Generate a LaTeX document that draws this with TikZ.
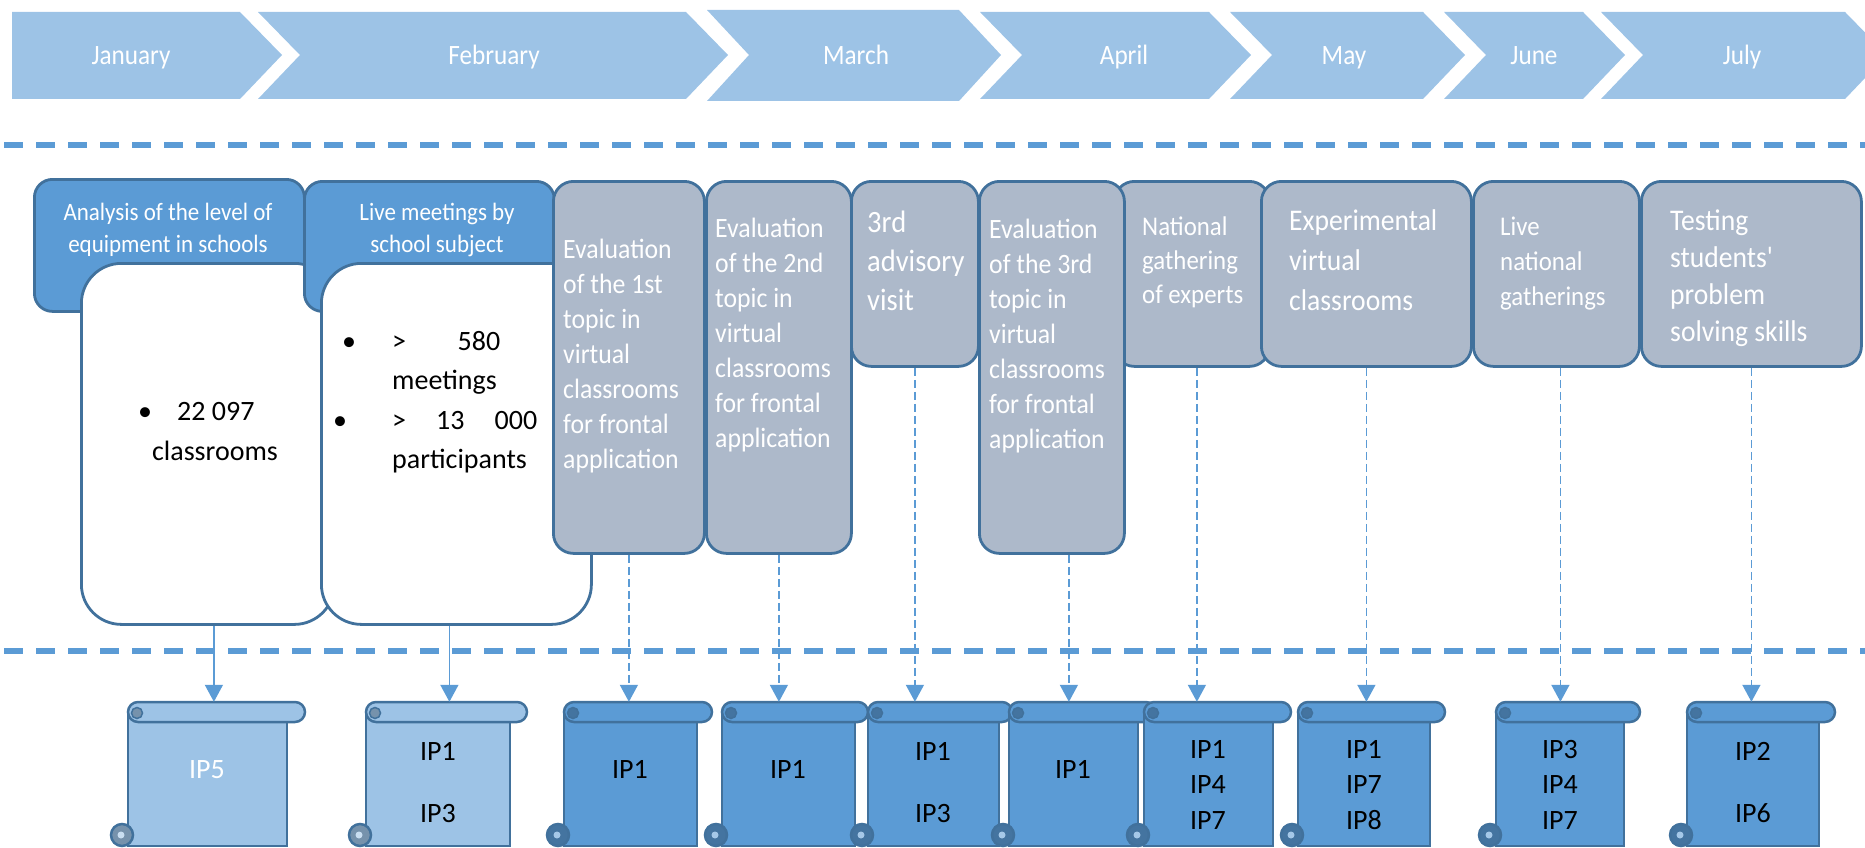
\documentclass[tikz,border=0pt]{standalone}
\usepackage{fontspec}
\setmainfont{Carlito}
\newfontfamily\wfont[FakeStretch=0.92]{Carlito}
\newfontfamily\mfont[FakeStretch=0.9]{Carlito}
\usetikzlibrary{arrows.meta,fit}
\definecolor{chev}{HTML}{9DC3E6}
\definecolor{mblue}{HTML}{5B9BD5}
\definecolor{dblue}{HTML}{41719C}
\definecolor{gbox}{HTML}{ADB9CA}
\newcommand\drawscroll[5]{%
  \draw[scrl, fill=#5] (#2,712) rectangle (#4,846);
  \draw[scrl, fill=#5, rounded corners=10] (#2,702) rectangle (#3,722);
  \draw[scrl, fill=#5!75!black, line width=1.5] (#2+9,713) circle (5.5);
  \draw[scrl, fill=#5!75!black] (#2-6,835) circle (11);
  \fill[#5!55!white] (#2-7,835) circle (3.5);
  \node[inner sep=0, fit={(#2,702) (#3,846)}] (#1) {};
}
\begin{document}
\begin{tikzpicture}[x=1pt,y=-1pt,
  scrl/.style={draw=dblue, line width=2.5},
  month/.style={text=white, inner sep=0, anchor=base, font=\mfont\fontsize{28}{34}\selectfont},
  tabbox/.style={draw=dblue, fill=mblue, line width=2.8, rounded corners=18, inner sep=0, anchor=north west},
  whitebox/.style={draw=dblue, fill=white, line width=2.8, rounded corners=40, inner sep=0, anchor=north west},
  graybox/.style={draw=dblue, fill=gbox, line width=2.8, rounded corners=20, inner sep=0, anchor=north west},
  wtext/.style={text=white, inner sep=0, anchor=base west},
  btext/.style={text=black, inner sep=0, font=\fontsize{28}{40}\selectfont},
  stext/.style={inner sep=0, anchor=base, font=\fontsize{28}{35}\selectfont},
  hdash/.style={mblue, line width=6, dash pattern=on 19pt off 13pt},
  conndash/.style={mblue, line width=1.6, dash pattern=on 8pt off 4pt, -{Triangle[width=18pt,length=17pt]}},
  connsolid/.style={mblue, line width=1.6, -{Triangle[width=18pt,length=17pt]}}
]
\useasboundingbox (0,0) rectangle (1865,848);
\clip (0,0) rectangle (1865,848);

% chevrons
\fill[chev] (12,12) -- (240,12) -- (282,55) -- (240,99) -- (12,99) -- cycle;
\fill[chev] (258,12) -- (686,12) -- (728,55) -- (686,99) -- (258,99) -- (300,55) -- cycle;
\fill[chev] (707,10) -- (959,10) -- (1001,55) -- (959,101) -- (707,101) -- (749,55) -- cycle;
\fill[chev] (980,12) -- (1209,12) -- (1251,55) -- (1209,99) -- (980,99) -- (1022,55) -- cycle;
\fill[chev] (1230,12) -- (1423,12) -- (1465,55) -- (1423,99) -- (1230,99) -- (1272,55) -- cycle;
\fill[chev] (1444,12) -- (1583,12) -- (1625,55) -- (1583,99) -- (1444,99) -- (1486,55) -- cycle;
\fill[chev] (1601,12) -- (1845,12) -- (1887,55) -- (1845,99) -- (1601,99) -- (1643,55) -- cycle;
\node[month] (mjan) at (131,65) {January};
\node[month] (mfeb) at (494,65) {February};
\node[month] (mmar) at (856,65) {March};
\node[month] (mapr) at (1124,65) {April};
\node[month] (mmay) at (1344,65) {May};
\node[month] (mjun) at (1534,65) {June};
\node[month] (mjul) at (1742,65) {July};

% dashed separators
\draw[hdash] (4,145) -- (1865,145);
\draw[hdash] (4,651) -- (1865,651);

% first two boxes
\node[tabbox, minimum width=270, minimum height=132] (tab1) at (33,178) {};
\node[whitebox, minimum width=253, minimum height=361] (w1) at (80,262) {};
\node[tabbox, minimum width=250, minimum height=130] (tab2) at (303,180) {};
\node[whitebox, minimum width=270, minimum height=361] (w2) at (320,262) {};
\node[wtext, anchor=base, font=\wfont\fontsize{25}{32}\selectfont] (tab1t) at (168,220)
  {\parbox[t]{260pt}{\centering Analysis of the level of\\equipment in schools}};
\node[wtext, anchor=base, font=\wfont\fontsize{25}{32}\selectfont] (tab2t) at (437,220)
  {\parbox[t]{240pt}{\centering Live meetings by\\school subject}};
\node[btext, anchor=base] (b1) at (145,420) {•};
\node[btext, anchor=base west] (b1a) at (177,420) {22 097};
\node[btext, anchor=base] (b1b) at (215,460) {classrooms};
\node[btext, anchor=base] (b2) at (349,350) {•};
\node[btext, anchor=base west] (b2a) at (392,350) {\makebox[108pt][l]{>\hfill 580}};
\node[btext, anchor=base west] (b2b) at (392,389) {meetings};
\node[btext, anchor=base] (b3) at (340,429) {•};
\node[btext, anchor=base west] (b3a) at (392,429) {\makebox[145pt][l]{>\hfill 13\hfill 000}};
\node[btext, anchor=base west] (b3b) at (392,468) {participants};

% grey boxes
\node[graybox, minimum width=151, minimum height=372] (g1) at (552,180) {};
\node[graybox, minimum width=145, minimum height=372] (g2) at (705,180) {};
\node[graybox, minimum width=127, minimum height=185] (g3) at (850,180) {};
\node[graybox, minimum width=155, minimum height=185] (g5) at (1113,180) {};
\node[graybox, minimum width=145, minimum height=372] (g4) at (978,180) {};
\node[graybox, minimum width=210, minimum height=185] (g6) at (1260,180) {};
\node[graybox, minimum width=166, minimum height=185] (g7) at (1472,180) {};
\node[graybox, minimum width=220, minimum height=185] (g8) at (1640,180) {};

\node[wtext, font=\wfont\fontsize{28}{35}\selectfont] (g1t) at (563,258)
  {\parbox[t]{140pt}{\raggedright Evaluation\\of the 1st\\topic in\\virtual\\classrooms\\for frontal\\application}};
\node[wtext, font=\wfont\fontsize{28}{35}\selectfont] (g2t) at (715,237)
  {\parbox[t]{140pt}{\raggedright Evaluation\\of the 2nd\\topic in\\virtual\\classrooms\\for frontal\\application}};
\node[wtext, font=\wfont\fontsize{31}{39}\selectfont] (g3t) at (867,232)
  {\parbox[t]{120pt}{\raggedright 3rd\\advisory\\visit}};
\node[wtext, font=\wfont\fontsize{28}{35}\selectfont] (g4t) at (989,238)
  {\parbox[t]{140pt}{\raggedright Evaluation\\of the 3rd\\topic in\\virtual\\classrooms\\for frontal\\application}};
\node[wtext, font=\wfont\fontsize{27}{34}\selectfont] (g5t) at (1142,235)
  {\parbox[t]{140pt}{\raggedright National\\gathering\\of experts}};
\node[wtext, font=\wfont\fontsize{30}{40}\selectfont] (g6t) at (1289,230)
  {\parbox[t]{180pt}{\raggedright Experimental\\virtual\\classrooms}};
\node[wtext, font=\wfont\fontsize{27}{35}\selectfont] (g7t) at (1500,235)
  {\parbox[t]{140pt}{\raggedright Live\\national\\gatherings}};
\begin{scope}
\clip (1640,170) rectangle (1860,346);
\node[wtext, font=\wfont\fontsize{30}{37}\selectfont] (g8t) at (1670,230)
  {\parbox[t]{185pt}{\raggedright Testing\\students'\\problem\\solving skills}};
\end{scope}

% scrolls
\drawscroll{s1}{128}{305}{287}{chev}
\drawscroll{s2}{366}{527}{510}{chev}
\drawscroll{s3}{564}{712}{697}{mblue}
\drawscroll{s4}{722}{868}{855}{mblue}
\drawscroll{s5}{868}{1012}{999}{mblue}
\drawscroll{s6}{1009}{1156}{1138}{mblue}
\drawscroll{s7}{1144}{1291}{1273}{mblue}
\drawscroll{s8}{1298}{1445}{1430}{mblue}
\drawscroll{s9}{1496}{1640}{1624}{mblue}
\drawscroll{s10}{1687}{1835}{1819}{mblue}

\node[stext, text=white] (t1) at (207,778) {IP5};
\node[stext] (t2) at (438,760) {\parbox[t]{60pt}{\centering\fontsize{28}{62}\selectfont IP1\\IP3}};
\node[stext] (t3) at (630,778) {IP1};
\node[stext] (t4) at (788,778) {IP1};
\node[stext] (t5) at (933,760) {\parbox[t]{60pt}{\centering\fontsize{28}{62}\selectfont IP1\\IP3}};
\node[stext] (t6) at (1073,778) {IP1};
\node[stext] (t7) at (1208,758) {\parbox[t]{60pt}{\centering\fontsize{28}{35.5}\selectfont IP1\\IP4\\IP7}};
\node[stext] (t8) at (1364,758) {\parbox[t]{60pt}{\centering\fontsize{28}{35.5}\selectfont IP1\\IP7\\IP8}};
\node[stext] (t9) at (1560,758) {\parbox[t]{60pt}{\centering\fontsize{28}{35.5}\selectfont IP3\\IP4\\IP7}};
\node[stext] (t10) at (1753,760) {\parbox[t]{60pt}{\centering\fontsize{28}{62}\selectfont IP2\\IP6}};

% connectors
\draw[connsolid] ([xshift=6pt]w1.south) -- ([xshift=6pt]w1.south |- s1.north);
\draw[connsolid] ([xshift=-7pt]w2.south) -- ([xshift=-7pt]w2.south |- s2.north);
\draw[conndash] (g1.south) -- (g1.south |- s3.north);
\draw[conndash] (g2.south) -- (g2.south |- s4.north);
\draw[conndash] (g3.south) -- (g3.south |- s5.north);
\draw[conndash] ([xshift=17pt]g4.south) -- ([xshift=17pt]g4.south |- s6.north);
\draw[conndash] ([xshift=5pt]g5.south) -- ([xshift=5pt]g5.south |- s7.north);
\draw[conndash] (g6.south) -- (g6.south |- s8.north);
\draw[conndash] ([xshift=4pt]g7.south) -- ([xshift=4pt]g7.south |- s9.north);
\draw[conndash] (g8.south) -- (g8.south |- s10.north);
\end{tikzpicture}
\end{document}
